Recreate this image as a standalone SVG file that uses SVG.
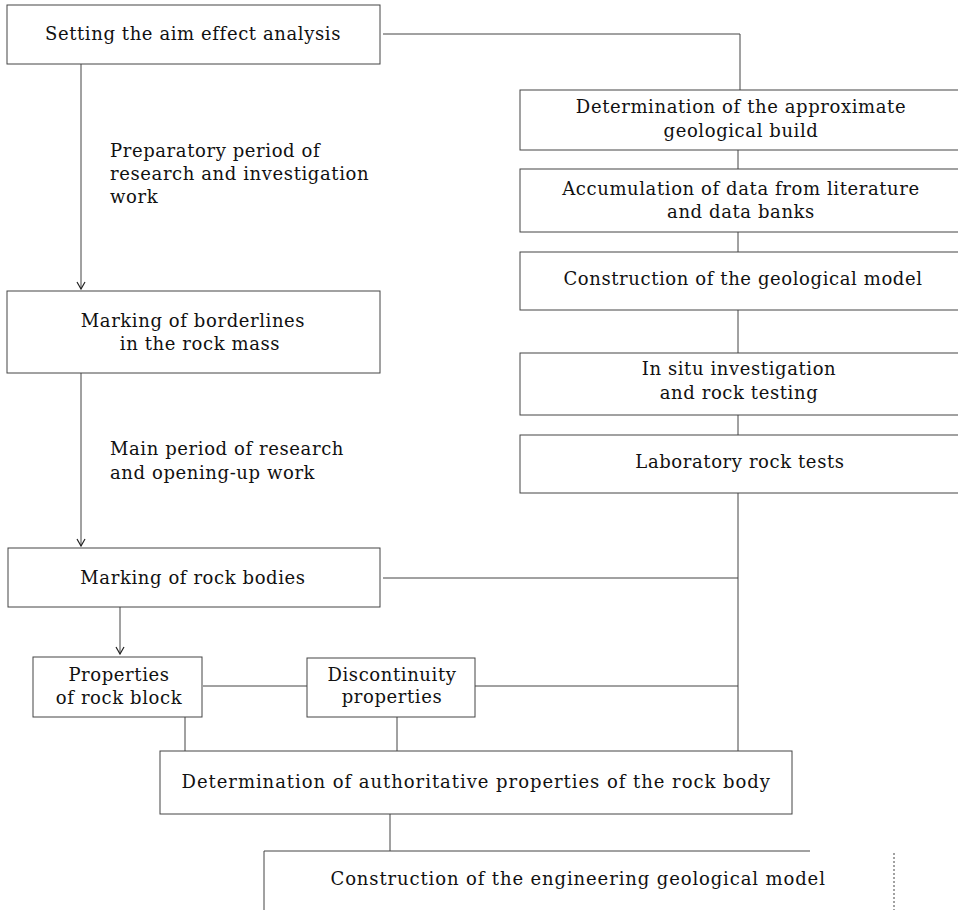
<svg xmlns="http://www.w3.org/2000/svg" width="958" height="910" viewBox="0 0 958 910">
<style>
.box{fill:#fff;stroke:#444;stroke-width:1}
.t{font-family:"DejaVu Serif","Liberation Serif",serif;font-size:18px;letter-spacing:0.6px;fill:#111}
.c{text-anchor:middle}
.ln{stroke:#444;stroke-width:1;fill:none}
</style>
<defs>
<marker id="ah" markerWidth="10" markerHeight="10" refX="9" refY="5" orient="auto" markerUnits="userSpaceOnUse" viewBox="0 0 10 10">
<path d="M2,1 L9,5 L2,9" fill="none" stroke="#222" stroke-width="1.2"/>
</marker>
</defs>
<rect width="958" height="910" fill="#fff"/>
<g id="connectors">
<path class="ln" d="M383,34 H740 V90"/>
<path class="ln" d="M738,150 V169"/>
<path class="ln" d="M738,232 V252"/>
<path class="ln" d="M738,310 V353"/>
<path class="ln" d="M738,415 V435"/>
<path class="ln" d="M738,493 V751"/>
<path class="ln" d="M81,64 V289" marker-end="url(#ah)"/>
<path class="ln" d="M81,373 V546" marker-end="url(#ah)"/>
<path class="ln" d="M383,578 H738"/>
<path class="ln" d="M120,607 V654" marker-end="url(#ah)"/>
<path class="ln" d="M203,686 H307"/>
<path class="ln" d="M475,686 H738"/>
<path class="ln" d="M185,717 V751"/>
<path class="ln" d="M397,717 V751"/>
<path class="ln" d="M390,814 V851"/>
</g>
<g id="aim">
<rect class="box" x="7" y="5" width="373" height="59"/>
<text class="t c" x="193" y="40">Setting the aim effect analysis</text>
</g>
<g id="prep-label">
<text class="t" x="110" y="157">Preparatory period of</text>
<text class="t" x="110" y="180">research and investigation</text>
<text class="t" x="110" y="203">work</text>
</g>
<g id="borderlines">
<rect class="box" x="7" y="291" width="373" height="82"/>
<text class="t c" x="193" y="327">Marking of borderlines</text>
<text class="t c" x="200" y="350">in the rock mass</text>
</g>
<g id="main-label">
<text class="t" x="110" y="455">Main period of research</text>
<text class="t" x="110" y="479">and opening-up work</text>
</g>
<g id="rockbodies">
<rect class="box" x="8" y="548" width="372" height="59"/>
<text class="t c" x="193" y="584">Marking of rock bodies</text>
</g>
<g id="rockblock">
<rect class="box" x="33" y="657" width="169" height="60"/>
<text class="t c" x="119" y="681">Properties</text>
<text class="t c" x="119" y="704">of rock block</text>
</g>
<g id="discontinuity">
<rect class="box" x="307" y="658" width="168" height="59"/>
<text class="t c" x="392" y="681">Discontinuity</text>
<text class="t c" x="392" y="703">properties</text>
</g>
<g id="authoritative">
<rect class="box" x="160" y="751" width="632" height="63"/>
<text class="t c" x="476" y="788" textLength="589" lengthAdjust="spacing">Determination of authoritative properties of the rock body</text>
</g>
<g id="engineering">
<path class="ln" d="M264,920 V851 H810"/>
<path class="ln" d="M894,853 V920" stroke-dasharray="2,2"/>
<text class="t c" x="578" y="885" textLength="495" lengthAdjust="spacing">Construction of the engineering geological model</text>
</g>
<g id="approx">
<rect class="box" x="520" y="90" width="450" height="60"/>
<text class="t c" x="741" y="113">Determination of the approximate</text>
<text class="t c" x="741" y="137">geological build</text>
</g>
<g id="accum">
<rect class="box" x="520" y="169" width="450" height="63"/>
<text class="t c" x="741" y="195">Accumulation of data from literature</text>
<text class="t c" x="741" y="218">and data banks</text>
</g>
<g id="geomodel">
<rect class="box" x="520" y="252" width="450" height="58"/>
<text class="t c" x="743" y="285">Construction of the geological model</text>
</g>
<g id="insitu">
<rect class="box" x="520" y="353" width="450" height="62"/>
<text class="t c" x="739" y="375">In situ investigation</text>
<text class="t c" x="739" y="399">and rock testing</text>
</g>
<g id="lab">
<rect class="box" x="520" y="435" width="450" height="58"/>
<text class="t c" x="740" y="468">Laboratory rock tests</text>
</g>
</svg>
